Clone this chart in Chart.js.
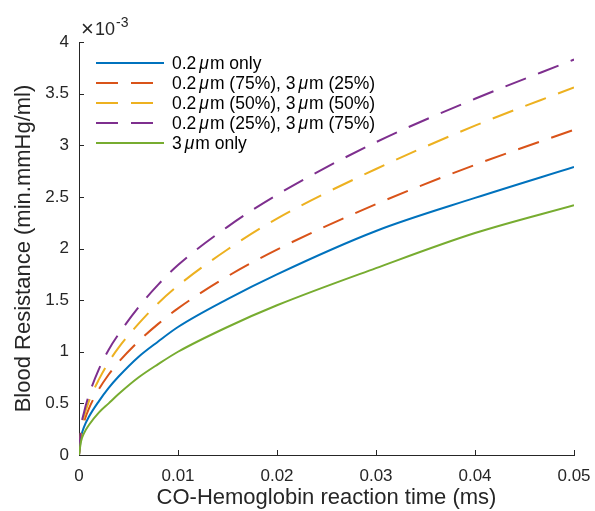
<!DOCTYPE html>
<html>
<head>
<meta charset="utf-8">
<script src="https://cdn.jsdelivr.net/npm/chart.js@4.4.1/dist/chart.umd.min.js"></script>
<style>
html,body{margin:0;padding:0;background:#fff;}
#c{display:block;}
</style>
</head>
<body>
<canvas id="c" width="595" height="511"></canvas>
<script>
// Reaction time (ms)
const timeMs = [0, 0.0002, 0.0005, 0.001, 0.002, 0.003, 0.004, 0.006, 0.008, 0.01, 0.015, 0.02, 0.03, 0.04, 0.05];
// Blood resistance, in units of 1e-3 min.mmHg/ml
const only02 = [0, 0.17, 0.27, 0.37, 0.52, 0.65, 0.76, 0.95, 1.10, 1.24, 1.51, 1.75, 2.17, 2.49, 2.79];
const mix75_25 = [0, 0.20, 0.32, 0.45, 0.635, 0.78, 0.90, 1.10, 1.27, 1.42, 1.73, 1.99, 2.43, 2.81, 3.15];
const mix50_50 = [0, 0.23, 0.37, 0.52, 0.73, 0.90, 1.04, 1.27, 1.47, 1.64, 1.99, 2.29, 2.77, 3.19, 3.56];
const mix25_75 = [0, 0.26, 0.41, 0.58, 0.83, 1.02, 1.17, 1.43, 1.65, 1.84, 2.21, 2.52, 3.03, 3.45, 3.83];
const only3 = [0, 0.13, 0.21, 0.29, 0.41, 0.50, 0.59, 0.75, 0.88, 1.00, 1.24, 1.45, 1.81, 2.15, 2.42];

const seriesLabels = ['0.2μm only', '0.2μm (75%), 3μm (25%)', '0.2μm (50%), 3μm (50%)', '0.2μm (25%), 3μm (75%)', '3μm only'];
const seriesValues = [only02, mix75_25, mix50_50, mix25_75, only3];
const seriesColors = ['#0072BD', '#D95319', '#EDB120', '#7E2F8E', '#77AC30'];
const seriesDashed = [false, true, true, true, false];

const xTicks = [0, 0.01, 0.02, 0.03, 0.04, 0.05];
const yTicks = [0, 0.5, 1, 1.5, 2, 2.5, 3, 3.5, 4];

const FONT = "'Liberation Sans', Arial, Helvetica, sans-serif";
const AXC = '#262626';
const DASH = [22, 13];
Chart.defaults.font.family = FONT;

const datasets = seriesValues.map((vals, i) => ({
  label: seriesLabels[i],
  data: timeMs.map((t, j) => ({x: t, y: vals[j]})),
  borderColor: seriesColors[i],
  backgroundColor: seriesColors[i],
  borderWidth: 2,
  borderDash: seriesDashed[i] ? DASH : [],
  pointRadius: 0,
  cubicInterpolationMode: 'monotone',
  fill: false,
  order: 5 - i
}));

const decoPlugin = {
  id: 'deco',
  afterDraw(chart) {
    const ctx = chart.ctx;
    const xs = chart.scales.x, ys = chart.scales.y;
    const ca = chart.chartArea;
    ctx.save();
    // inward ticks
    ctx.strokeStyle = AXC;
    ctx.lineWidth = 1;
    ctx.beginPath();
    xs.ticks.forEach(t => {
      const px = Math.round(xs.getPixelForValue(t.value)) + 0.5;
      if (Math.abs(px - ca.left) < 1) return;
      ctx.moveTo(px, ca.bottom);
      ctx.lineTo(px, ca.bottom - 5);
    });
    ys.ticks.forEach(t => {
      const py = Math.round(ys.getPixelForValue(t.value)) + 0.5;
      if (Math.abs(py - ca.bottom) < 1) return;
      ctx.moveTo(ca.left, py);
      ctx.lineTo(ca.left + 5, py);
    });
    ctx.stroke();

    // exponent label
    ctx.fillStyle = AXC;
    ctx.textBaseline = 'alphabetic';
    ctx.textAlign = 'left';
    ctx.font = '22px ' + FONT;
    ctx.fillText('×', ca.left + 2, ca.top - 6);
    ctx.font = '18px ' + FONT;
    ctx.fillText('10', ca.left + 16, ca.top - 7);
    const w = ctx.measureText('10').width;
    ctx.font = '14px ' + FONT;
    ctx.fillText('-3', ca.left + 16 + w + 1, ca.top - 15);

    // legend
    const lx0 = 96, lx1 = 164, tx = 172, ly0 = 63, dy = 20;
    chart.data.datasets.forEach((ds, i) => {
      const y = ly0 + i * dy;
      ctx.strokeStyle = ds.borderColor;
      ctx.lineWidth = 2;
      ctx.setLineDash(ds.borderDash && ds.borderDash.length ? DASH : []);
      ctx.beginPath();
      ctx.moveTo(lx0, y);
      ctx.lineTo(lx1, y);
      ctx.stroke();
      ctx.setLineDash([]);
      // text with italic mu
      ctx.fillStyle = '#000';
      ctx.textBaseline = 'middle';
      let x = tx;
      const parts = ds.label.split('μ');
      parts.forEach((p, k) => {
        if (k > 0) {
          x += 3;
          ctx.font = 'italic 17.5px ' + FONT;
          ctx.fillText('μ', x, y + 1);
          x += ctx.measureText('μ').width + 1;
        }
        ctx.font = '17.5px ' + FONT;
        ctx.fillText(p, x, y + 1);
        x += ctx.measureText(p).width;
      });
    });
    ctx.restore();
  }
};

new Chart(document.getElementById('c'), {
  type: 'line',
  data: {datasets},
  options: {
    responsive: false,
    animation: false,
    layout: {padding: {top: 42, right: 21, bottom: 0, left: 0}},
    plugins: {legend: {display: false}, tooltip: {enabled: false}},
    scales: {
      x: {
        type: 'linear', min: 0, max: 0.05,
        afterBuildTicks(s) { s.ticks = xTicks.map(v => ({value: v})); },
        ticks: {
          color: AXC, padding: 11, maxRotation: 0, autoSkip: false,
          font: {size: 17},
          callback: v => (v === 0 ? '0' : String(parseFloat(v.toFixed(2))))
        },
        grid: {display: false, drawTicks: false},
        border: {display: true, color: AXC, width: 1},
        title: {display: true, text: 'CO-Hemoglobin reaction time (ms)', color: AXC,
          font: {size: 22}, padding: {top: 0, bottom: 0}},
        afterFit(s) { s.height = 56; s.paddingLeft = 0; s.paddingRight = 0; }
      },
      y: {
        type: 'linear', min: 0, max: 4,
        afterBuildTicks(s) { s.ticks = yTicks.map(v => ({value: v})); },
        ticks: {
          color: AXC, padding: 10, autoSkip: false,
          font: {size: 17},
          callback: v => String(v)
        },
        grid: {display: false, drawTicks: false},
        border: {display: true, color: AXC, width: 1},
        title: {display: true, text: 'Blood Resistance (min.mmHg/ml)', color: AXC,
          font: {size: 22}, padding: {top: 11, bottom: 0}},
        afterFit(s) { s.width = 79; s.paddingTop = 0; s.paddingBottom = 0; }
      }
    }
  },
  plugins: [decoPlugin]
});
</script>
</body>
</html>
